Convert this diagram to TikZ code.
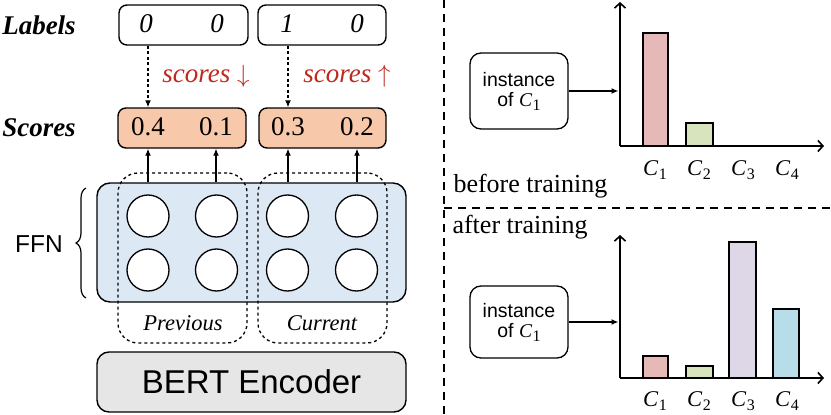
\documentclass[tikz,border=0pt]{standalone}
\usepackage{fontspec}
\setmainfont{Liberation Serif}
\setsansfont{Liberation Sans}
\usetikzlibrary{arrows.meta,decorations.pathreplacing}
\definecolor{scorefill}{HTML}{F7C8A9}
\definecolor{ffnfill}{HTML}{DDE8F5}
\definecolor{bertfill}{HTML}{E6E6E6}
\definecolor{redtxt}{HTML}{C0281E}
\definecolor{barA}{HTML}{E6B9B8}
\definecolor{barB}{HTML}{D7E4BD}
\definecolor{barC}{HTML}{DDD7E8}
\definecolor{barD}{HTML}{B7DEE8}
\newcommand\Csub[1]{{\rmfamily\textit{C}\kern0.5pt\raisebox{-0.45ex}{\fontsize{16}{16}\selectfont #1}}}
\tikzset{
  big/.style={font=\fontsize{27}{30}\selectfont},
  rowtitle/.style={font=\fontsize{27}{30}\selectfont\bfseries\itshape},
  valbox/.style={draw, line width=1.4pt, rounded corners=8pt, minimum height=40pt, inner sep=0pt},
  neuron/.style={circle, draw, fill=white, line width=1.3pt, minimum size=42pt, inner sep=0pt},
  groupbox/.style={draw, dash pattern=on 3pt off 3pt, line width=1.3pt, rounded corners=20pt, minimum width=129pt, minimum height=170pt, inner sep=0pt},
  inst/.style={draw, line width=1.3pt, rounded corners=11pt, minimum width=98pt, inner sep=0pt, align=center, font=\fontsize{19.5}{22}\selectfont\sffamily},
  axis/.style={line width=1.6pt, -{Straight Barb[length=5pt,width=11pt,line width=1.6pt]}},
  bar/.style={draw, line width=1.5pt},
  clab/.style={font=\fontsize{22.5}{24}\selectfont},
  sep/.style={line width=1.2pt, dash pattern=on 8pt off 6pt},
  arr/.style={line width=1.3pt, -{Latex[length=7pt,width=6pt]}},
}
\begin{document}
\begin{tikzpicture}[x=1pt,y=-1pt]
\useasboundingbox (0,0) rectangle (831,415);
% row titles
\node[rowtitle] (tlab) at (39,25) {Labels};
\node[rowtitle] (tsc) at (39,128) {Scores};
% label boxes
\node[valbox, minimum width=129pt] (lab1) at (183.5,25) {};
\node[valbox, minimum width=128pt] (lab2) at (322,25) {};
\node[big, font=\fontsize{27}{30}\selectfont\itshape] (l1a) at (146,24) {0};
\node[big, font=\fontsize{27}{30}\selectfont\itshape] (l1b) at (217,24) {0};
\node[big, font=\fontsize{27}{30}\selectfont\itshape] (l2a) at (287,24) {1};
\node[big, font=\fontsize{27}{30}\selectfont\itshape] (l2b) at (357,24) {0};
% score boxes
\node[valbox, fill=scorefill, minimum width=128pt] (sc1) at (182,128) {};
\node[valbox, fill=scorefill, minimum width=127pt] (sc2) at (322.5,128) {};
\node[big] (s1a) at (148,127) {0.4};
\node[big] (s1b) at (216,127) {0.1};
\node[big] (s2a) at (288,127) {0.3};
\node[big] (s2b) at (357,127) {0.2};
% red annotations
\node[font=\fontsize{27}{30}\selectfont\itshape, text=redtxt] (down) at (206,76) {scores $\downarrow$};
\node[font=\fontsize{27}{30}\selectfont\itshape, text=redtxt] (up) at (347,76) {scores $\uparrow$};
\draw[line width=1.3pt, dash pattern=on 3pt off 2.5pt, -{Latex[length=7pt,width=6pt]}] (s1a |- lab1.south) -- (s1a |- sc1.north);
\draw[line width=1.3pt, dash pattern=on 3pt off 2.5pt, -{Latex[length=7pt,width=6pt]}] (s2a |- lab2.south) -- (s2a |- sc2.north);
% FFN
\node[draw, line width=1.4pt, fill=ffnfill, rounded corners=13pt, minimum width=309pt, minimum height=119pt, inner sep=0pt] (ffn) at (251.5,242.5) {};
\node[groupbox] (prev) at (182.5,258) {};
\node[groupbox] (cur) at (322.5,258) {};
\node[neuron] (c11) at (148,216) {};
\node[neuron] (c12) at (216.5,216) {};
\node[neuron] (c13) at (287.5,216) {};
\node[neuron] (c14) at (356.5,216) {};
\node[neuron] (c21) at (148,270) {};
\node[neuron] (c22) at (216.5,270) {};
\node[neuron] (c23) at (287.5,270) {};
\node[neuron] (c24) at (356.5,270) {};
\draw[arr] (s1a |- ffn.north) -- (s1a |- sc1.south);
\draw[arr] (s1b |- ffn.north) -- (s1b |- sc1.south);
\draw[arr] (s2a |- ffn.north) -- (s2a |- sc2.south);
\draw[arr] (s2b |- ffn.north) -- (s2b |- sc2.south);
\node[font=\fontsize{22.5}{25}\selectfont\itshape] (tprev) at (183,323) {Previous};
\node[font=\fontsize{22.5}{25}\selectfont\itshape] (tcur) at (322,323) {Current};
\node[font=\fontsize{24.5}{27}\selectfont\sffamily] (tffn) at (39,244) {FFN};
\draw[line width=1.2pt, decorate, decoration={brace, amplitude=10pt}] (86,298) -- (86,188);
% BERT
\node[draw, line width=1.4pt, fill=bertfill, rounded corners=12pt, minimum width=309pt, minimum height=60pt, inner sep=0pt, font=\fontsize{33}{36}\selectfont\sffamily] (bert) at (251.5,382) {BERT Encoder};
% separators
\coordinate (vtop) at (444,0);
\coordinate (vbot) at (444,415);
\coordinate (hl) at (444,208);
\coordinate (hr) at (831,208);
\draw[sep] (vtop) -- (vbot);
\draw[sep] (hl) -- (hr);
% top chart
\coordinate (o1) at (620,146);
\coordinate (y1) at (620,2);
\coordinate (x1) at (824,146);
\draw[bar, fill=barA] (643,146) rectangle (668,33);
\draw[bar, fill=barB] (686,146) rectangle (713,123);
\draw[axis] (o1) -- (y1);
\draw[axis] (o1) -- (x1);
\node[inst, minimum height=76pt] (inst1) at (519,91) {instance\\[-2pt]of \Csub{1}};
\draw[arr, shorten >=1.5pt] (inst1.east) -- (inst1.east -| o1);
\node[clab] (ca1) at (655,170) {\Csub{1}};
\node[clab] (cb1) at (699,170) {\Csub{2}};
\node[clab] (cc1) at (743,170) {\Csub{3}};
\node[clab] (cd1) at (787,170) {\Csub{4}};
\node[font=\fontsize{26}{28}\selectfont, anchor=west] (tbefore) at (450,186) {before training};
% bottom chart
\node[font=\fontsize{26}{28}\selectfont, anchor=west] (tafter) at (449,227) {after training};
\coordinate (o2) at (620,378);
\coordinate (y2) at (620,235);
\coordinate (x2) at (824,378);
\draw[bar, fill=barA] (643,378) rectangle (668,356);
\draw[bar, fill=barB] (686,378) rectangle (713,366);
\draw[bar, fill=barC] (729,378) rectangle (756,242);
\draw[bar, fill=barD] (773,378) rectangle (799,309);
\draw[axis] (o2) -- (y2);
\draw[axis] (o2) -- (x2);
\node[inst, minimum height=72pt] (inst2) at (519,322) {instance\\[-2pt]of \Csub{1}};
\draw[arr, shorten >=1.5pt] (inst2.east) -- (inst2.east -| o2);
\node[clab] (ca2) at (655,401) {\Csub{1}};
\node[clab] (cb2) at (699,401) {\Csub{2}};
\node[clab] (cc2) at (743,401) {\Csub{3}};
\node[clab] (cd2) at (787,401) {\Csub{4}};
\end{tikzpicture}
\end{document}
